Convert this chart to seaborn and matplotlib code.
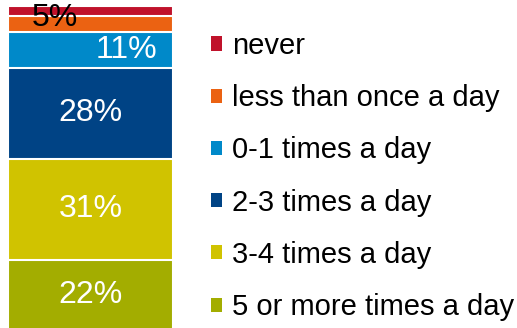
import numpy as np
import pandas as pd
import matplotlib
matplotlib.use("Agg")
import matplotlib.pyplot as plt
from matplotlib.patches import Patch
import seaborn as sns

# Share of respondents by frequency, listed bottom of the stack to top
categories = ["5 or more times a day", "3-4 times a day", "2-3 times a day",
              "0-1 times a day", "less than once a day", "never"]
shares = [22, 31, 28, 11, 5, 3]
colors = ["#A3AD00", "#D0C300", "#004385", "#0089C9", "#EB6212", "#C0122B"]
value_labels = ["22%", "31%", "28%", "11%", "5%", ""]

sns.set_style("white")
plt.rcParams["font.family"] = ["Liberation Sans", "DejaVu Sans"]
plt.rcParams["text.color"] = "black"

W, H = 517, 328
fig = plt.figure(figsize=(W / 100, H / 100), dpi=100)
ax = fig.add_axes([8 / W, -3 / H, 165 / W, 325 / H])

df = pd.DataFrame({"group": ["all"] * len(shares), "category": categories,
                   "share": shares})
df["top"] = df["share"].cumsum()
df["mid"] = df["top"] - df["share"] / 2

# stacked bar: draw cumulative totals from the tallest down
for i in range(len(df) - 1, -1, -1):
    sns.barplot(data=df.iloc[[i]], x="group", y="top", color=colors[i],
                width=1.0, edgecolor="white", linewidth=1.5, saturation=1,
                ax=ax)

ax.set_xlim(-0.5, 0.5)
ax.set_ylim(0, 100)
ax.axis("off")

# value labels
offsets = {3: 0.215, 4: -0.215}
for i, row in df.iterrows():
    text = value_labels[i]
    if not text:
        continue
    x = offsets.get(i, 0.0)
    y = row["mid"]
    color = "white"
    if i == 4:
        y = 96.2
        color = "black"
    ax.text(x, y, text, ha="center", va="center", fontsize=23, color=color)

# legend, top entry first
handles = [Patch(facecolor=colors[i], edgecolor="none", label=categories[i])
           for i in range(len(categories) - 1, -1, -1)]
leg = fig.legend(handles=handles, loc="upper left",
                 bbox_to_anchor=(211 / W, 1 - 32 / H), frameon=False,
                 fontsize=21, handlelength=0.37, handleheight=0.37,
                 handletextpad=0.34, labelspacing=0.83, borderpad=0,
                 borderaxespad=0)
for t in leg.get_texts():
    t.set_color("black")

fig.savefig("out.png", dpi=100)
